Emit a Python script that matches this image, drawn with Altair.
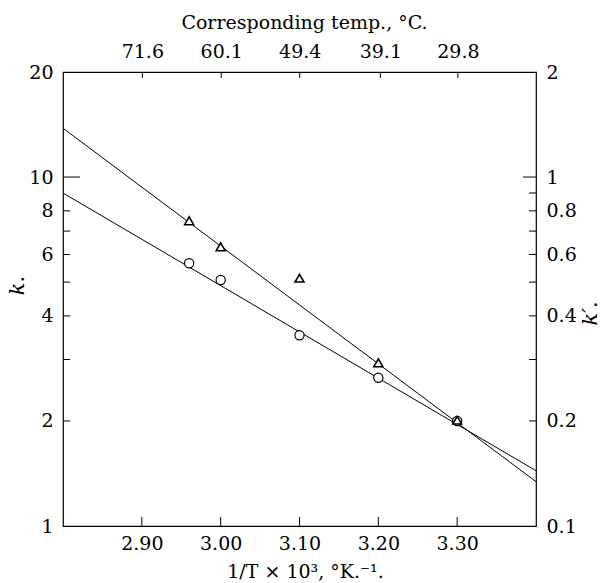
import altair as alt
import pandas as pd

# ---- data ----
x_pts = [2.96, 3.00, 3.10, 3.20, 3.30]
k_circ = [5.66, 5.07, 3.52, 2.66, 2.00]          # circles, left axis k
kp_tri = [0.749, 0.631, 0.513, 0.2935, 0.201]    # triangles, right axis k'
line_x = [2.80, 3.40]
k_line = [9.0, 1.44]
kp_line = [1.38, 0.134]

bottom_ticks = [2.90, 3.00, 3.10, 3.20, 3.30]
temps_c = [71.6, 60.1, 49.4, 39.1, 29.8]
top_pos = [1000.0 / (t + 273.15) for t in temps_c]

left_labels = [1, 2, 4, 6, 8, 10, 20]
left_minor = [2, 3, 4, 5, 6, 7, 8]
left_major = [10]
right_labels = [0.1, 0.2, 0.4, 0.6, 0.8, 1, 2]
right_minor = [0.2, 0.3, 0.4, 0.5, 0.6, 0.7, 0.8, 0.9]
right_major = [1]

W, H = 473, 454
FONT = "DejaVu Serif"
FS = 19

circ_df = pd.DataFrame({"x": x_pts, "k": k_circ})
tri_df = pd.DataFrame({"x": x_pts, "kp": kp_tri})
cl_df = pd.DataFrame({"x": line_x, "k": k_line})
tl_df = pd.DataFrame({"x": line_x, "kp": kp_line})

xs = alt.Scale(domain=[2.80, 3.40], nice=False, zero=False)
yl = alt.Scale(type="log", domain=[1, 20], nice=False)
yr = alt.Scale(type="log", domain=[0.1, 2], nice=False)

common = dict(ticks=False, domain=False, grid=False, labelFont=FONT,
              labelFontSize=FS, labelColor="black", titleFont=FONT,
              titleFontSize=FS, titleFontWeight="normal", titleColor="black",
              labelFlush=False, labelOverlap=False)

bottom_axis = alt.Axis(orient="bottom", values=bottom_ticks, format=".2f",
                       labelPadding=8, title="1/T × 10³, °K.⁻¹.",
                       titleX=242, titleY=45, titleBaseline="middle",
                       titleAlign="center", **common)
top_axis = alt.Axis(orient="top", values=top_pos,
                    labelExpr="format(1000/datum.value - 273.15, '.1f')",
                    labelPadding=11, title="Corresponding temp., °C.",
                    titleX=241, titleY=-50, titleBaseline="middle",
                    titleAlign="center", **common)
left_axis = alt.Axis(orient="left", values=left_labels, format="~g",
                     labelPadding=10, title="k.", titleFontStyle="italic",
                     titleAngle=270, titleX=-46, titleY=213,
                     titleBaseline="middle", titleAlign="center",
                     **{**common, "titleFontSize": 21})
right_axis = alt.Axis(orient="right", values=right_labels, format="~g",
                      labelPadding=10, title="k′.", titleFontStyle="italic",
                      titleAngle=270, titleX=54, titleY=241,
                      titleBaseline="middle", titleAlign="center",
                      **{**common, "titleFontSize": 21})

# axis carriers (invisible points that own the four axes)
ax_bl = alt.Chart(cl_df).mark_point(opacity=0).encode(
    x=alt.X("x:Q", scale=xs, axis=bottom_axis),
    y=alt.Y("k:Q", scale=yl, axis=left_axis))
ax_tr = alt.Chart(tl_df).mark_point(opacity=0).encode(
    x=alt.X("x:Q", scale=xs, axis=top_axis),
    y=alt.Y("kp:Q", scale=yr, axis=right_axis))

circ_line = alt.Chart(cl_df).mark_line(color="black", strokeWidth=1).encode(
    x=alt.X("x:Q", scale=xs, axis=None),
    y=alt.Y("k:Q", scale=yl, axis=None))
circ_pts = alt.Chart(circ_df).mark_point(
    shape="circle", filled=True, fill="white", stroke="black",
    strokeWidth=1.2, size=85, opacity=1).encode(
    x=alt.X("x:Q", scale=xs, axis=None),
    y=alt.Y("k:Q", scale=yl, axis=None))
tri_line = alt.Chart(tl_df).mark_line(color="black", strokeWidth=1).encode(
    x=alt.X("x:Q", scale=xs, axis=None),
    y=alt.Y("kp:Q", scale=yr, axis=None))
tri_pts = alt.Chart(tri_df).mark_point(
    shape="triangle-up", filled=True, fill="white", stroke="black",
    strokeWidth=1.6, size=80, opacity=1).encode(
    x=alt.X("x:Q", scale=xs, axis=None),
    y=alt.Y("kp:Q", scale=yr, axis=None))

bt = alt.Chart(pd.DataFrame({"v": bottom_ticks})).mark_rule(color="black").encode(
    x=alt.X("v:Q", scale=xs, axis=None), y=alt.value(H), y2=alt.value(H - 9))
tt = alt.Chart(pd.DataFrame({"v": top_pos})).mark_rule(color="black").encode(
    x=alt.X("v:Q", scale=xs, axis=None), y=alt.value(0), y2=alt.value(6))
lmin = alt.Chart(pd.DataFrame({"v": left_minor})).mark_rule(color="black").encode(
    y=alt.Y("v:Q", scale=yl, axis=None), x=alt.value(0), x2=alt.value(7))
lmaj = alt.Chart(pd.DataFrame({"v": left_major})).mark_rule(color="black").encode(
    y=alt.Y("v:Q", scale=yl, axis=None), x=alt.value(0), x2=alt.value(17))
rmin = alt.Chart(pd.DataFrame({"v": right_minor})).mark_rule(color="black").encode(
    y=alt.Y("v:Q", scale=yr, axis=None), x=alt.value(W), x2=alt.value(W - 7))
rmaj = alt.Chart(pd.DataFrame({"v": right_major})).mark_rule(color="black").encode(
    y=alt.Y("v:Q", scale=yr, axis=None), x=alt.value(W), x2=alt.value(W - 13))

chart = alt.layer(
    ax_bl, ax_tr, circ_line, tri_line, bt, tt, lmin, lmaj, rmin, rmaj,
    circ_pts, tri_pts
).resolve_scale(y="independent").resolve_axis(
    x="independent", y="independent").properties(
    width=W, height=H, autosize="none",
    padding={"left": 63, "top": 72, "right": 65, "bottom": 57},
    background="white").configure_view(stroke="black", strokeWidth=1.2)

chart.save("out.html", embed_options={"renderer": "svg", "actions": False})
